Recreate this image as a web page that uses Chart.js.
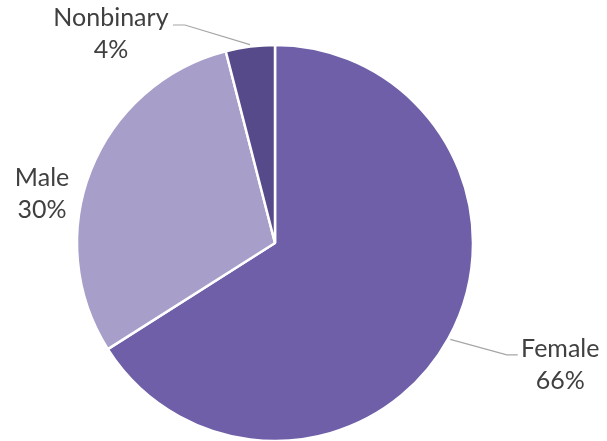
<!DOCTYPE html>
<html>
<head>
<meta charset="utf-8">
<script src="https://cdn.jsdelivr.net/npm/chart.js@4/dist/chart.umd.min.js"></script>
<style>
  html, body { margin: 0; padding: 0; background: #ffffff; }
  #wrap { position: relative; width: 607px; height: 441px; }
</style>
</head>
<body>
<div id="wrap"><canvas id="chart"></canvas></div>
<script>
// Gender breakdown (percent of respondents)
const categories = ['Female', 'Male', 'Nonbinary'];
const shares = [66, 30, 4];
const sliceColors = ['#6F5FA8', '#A79EC9', '#574A8B'];

// Label placement relative to each slice's outer edge at its mid angle:
// text centre offset (dx, dy of first baseline) and optional leader polyline.
const labelLayout = [
  { dx: 110, dy: 17.5, leader: [[56.5, 15.5], [67.5, 15.5]] },
  { dx: -47, dy: 17, leader: null },
  { dx: -139, dy: -18.6, leader: [[-65, -19.6], [-77, -19.6]] }
];

const sliceLabels = {
  id: 'sliceLabels',
  afterDatasetsDraw(chart) {
    const ctx = chart.ctx;
    const meta = chart.getDatasetMeta(0);
    const total = shares.reduce((a, b) => a + b, 0);
    meta.data.forEach((arc, i) => {
      const mid = (arc.startAngle + arc.endAngle) / 2;
      const r = arc.outerRadius + 2;
      const ex = arc.x + Math.cos(mid) * r;
      const ey = arc.y + Math.sin(mid) * r;
      const lay = labelLayout[i];
      if (lay.leader) {
        ctx.save();
        ctx.strokeStyle = '#A6A6A6';
        ctx.lineWidth = 1.2;
        ctx.beginPath();
        ctx.moveTo(ex, ey);
        lay.leader.forEach(p => ctx.lineTo(ex + p[0], ey + p[1]));
        ctx.stroke();
        ctx.restore();
      }
      ctx.save();
      ctx.fillStyle = '#404040';
      ctx.font = '25px Lato';
      ctx.textAlign = 'center';
      ctx.textBaseline = 'alphabetic';
      const pct = Math.round(shares[i] / total * 100) + '%';
      ctx.fillText(categories[i], ex + lay.dx, ey + lay.dy);
      ctx.fillText(pct, ex + lay.dx, ey + lay.dy + 32);
      ctx.restore();
    });
  }
};

new Chart(document.getElementById('chart'), {
  type: 'pie',
  data: {
    labels: categories,
    datasets: [{
      data: shares,
      backgroundColor: sliceColors,
      borderColor: '#ffffff',
      borderWidth: 2.5,
      radius: 198
    }]
  },
  options: {
    responsive: true,
    maintainAspectRatio: false,
    animation: false,
    layout: { padding: { left: 0, right: 57, top: 45, bottom: 0 } },
    plugins: {
      legend: { display: false },
      tooltip: { enabled: false }
    }
  },
  plugins: [sliceLabels]
});
</script>
</body>
</html>
